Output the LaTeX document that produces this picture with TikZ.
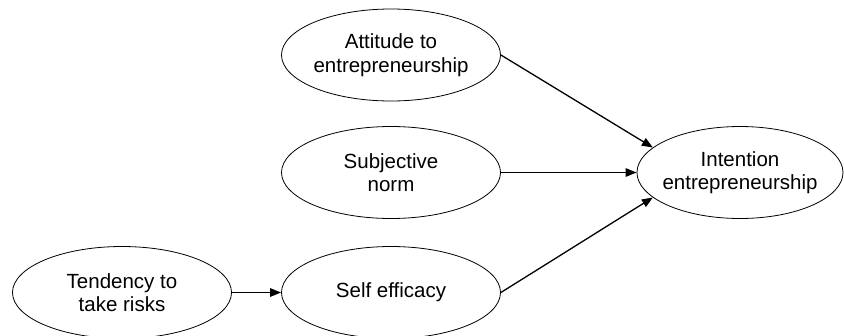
\documentclass[tikz,border=0pt]{standalone}
\usepackage{fontspec}
\setmainfont{Liberation Sans}
\usetikzlibrary{shapes.geometric,arrows.meta}

\begin{document}
\begin{tikzpicture}[x=1pt,y=1pt,yscale=-1,xscale=1,
    factor/.style={draw, ellipse, line width=0.8, inner xsep=-30pt, inner ysep=0pt, minimum width=219, minimum height=92, align=center, font=\fontsize{20.5}{23.5}\selectfont},
    link/.style={line width=1.3, -{Triangle[length=11pt,width=8.5pt]}}]
        %set diagram left start at 0, and has height of 335
        \useasboundingbox (0,0) rectangle (844,335);

        % Ellipse Nodes
        \node [factor] (att) at (391,55) {Attitude to\\entrepreneurship};
        \node [factor] (subj) at (391,172.5) {Subjective\\norm};
        \node [factor] (self) at (391,292.5) {Self efficacy};
        \node [factor] (tend) at (122,292.5) {Tendency to\\take risks};
        \node [factor, minimum width=206] (int) at (740,172.5) {Intention\\entrepreneurship};

        % Arrows
        \draw [link] (att.east) -- (int.164);
        \draw [link] (subj.east) -- (int.west);
        \draw [link] (self.east) -- (int.196);
        \draw [link] (tend.east) -- (self.west);

\end{tikzpicture}
\end{document}
